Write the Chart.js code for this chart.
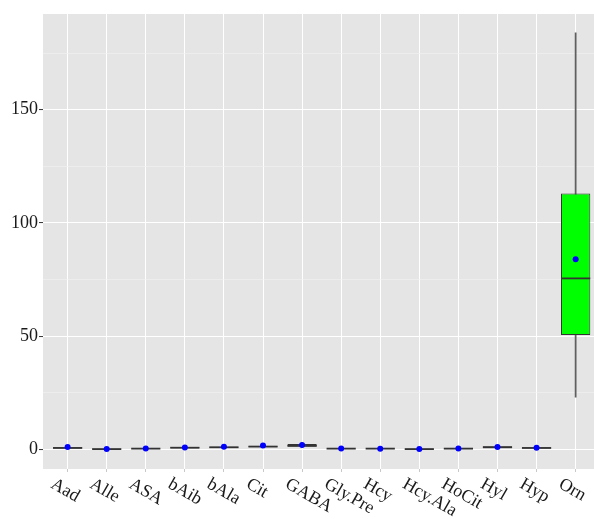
<!DOCTYPE html>
<html>
<head>
<meta charset="utf-8">
<script src="https://cdn.jsdelivr.net/npm/chart.js@4"></script>
<style>
  html, body { margin: 0; padding: 0; background: #ffffff; overflow: hidden; }
  #wrap { width: 594px; height: 519px; position: relative; overflow: hidden; }
  #c { display: block; width: 594px; height: 519px; }
</style>
</head>
<body>
<div id="wrap"><canvas id="c" width="594" height="519"></canvas></div>
<script>
// ---- data ----
const categories   = ['Aad','Alle','ASA','bAib','bAla','Cit','GABA','Gly.Pre','Hcy','Hcy.Ala','HoCit','Hyl','Hyp','Orn'];
const whiskerLow   = [0.2, 0.0, 0.1, 0.3, 0.4, 0.7, 0.8, 0.1, 0.1, 0.0, 0.1, 0.3, 0.2, 23];
const q1Values     = [0.4, 0.05,0.2, 0.5, 0.7, 1.0, 1.2, 0.2, 0.2, 0.05,0.2, 0.6, 0.4, 50.5];
const medianValues = [0.6, 0.1, 0.3, 0.7, 0.9, 1.2, 1.5, 0.3, 0.3, 0.1, 0.3, 0.9, 0.6, 75.5];
const q3Values     = [0.9, 0.2, 0.4, 0.9, 1.1, 1.4, 2.3, 0.4, 0.4, 0.2, 0.5, 1.3, 0.8, 113];
const whiskerHigh  = [1.4, 0.3, 0.6, 1.3, 1.5, 2.0, 3.0, 0.6, 0.6, 0.3, 0.7, 1.7, 1.1, 184];
const meanValues   = [1.0, 0.1, 0.4, 0.8, 1.1, 1.7, 1.9, 0.4, 0.3, 0.1, 0.4, 1.0, 0.7, 84];
const yTickLabels  = [0, 50, 100, 150];

const idx = categories.map((_, i) => i);

const panelBg = {
  id: 'panelBg',
  beforeDraw(chart) {
    const a = chart.chartArea, ctx = chart.ctx;
    ctx.save();
    ctx.fillStyle = '#E5E5E5';
    ctx.fillRect(a.left, a.top, a.right - a.left, a.bottom - a.top);
    ctx.restore();
  }
};

const xLabels = {
  id: 'xLabels',
  afterDraw(chart) {
    const ctx = chart.ctx, xs = chart.scales.x, a = chart.chartArea;
    ctx.save();
    ctx.font = '18px "Liberation Serif", "Times New Roman", serif';
    ctx.fillStyle = '#1a1a1a';
    ctx.textAlign = 'left';
    ctx.textBaseline = 'top';
    categories.forEach((c, i) => {
      const px = xs.getPixelForValue(i);
      ctx.save();
      ctx.translate(px - 11, a.bottom + 6);
      ctx.rotate(30 * Math.PI / 180);
      ctx.fillText(c, 0, 0);
      ctx.restore();
    });
    ctx.restore();
  }
};

const boxData = idx.map(i => ({ x: i, y: [q1Values[i], q3Values[i]] }));
const whiskerData = idx.map(i => ({ x: i, y: [whiskerLow[i], whiskerHigh[i]] }));
const medianData = idx.map(i => ({ x: i, y: medianValues[i] }));
const meanData = idx.map(i => ({ x: i, y: meanValues[i] }));

new Chart(document.getElementById('c'), {
  type: 'bar',
  data: {
    datasets: [
      {
        type: 'bar', label: 'whisker', data: whiskerData, grouped: false,
        backgroundColor: '#5f5f5f', borderWidth: 0, barThickness: 1.1, order: 4
      },
      {
        type: 'bar', label: 'box', data: boxData, grouped: false,
        backgroundColor: '#00FF00', borderColor: '#333333', borderWidth: 1,
        borderSkipped: false, categoryPercentage: 1, barPercentage: 0.75, order: 3
      },
      {
        type: 'line', label: 'median', data: medianData, showLine: false,
        pointStyle: 'line', pointRadius: 14.6, pointHoverRadius: 14.6,
        pointBorderColor: '#333333', pointBorderWidth: 1.8,
        pointBackgroundColor: '#333333', order: 2
      },
      {
        type: 'line', label: 'mean', data: meanData, showLine: false,
        pointStyle: 'circle', pointRadius: 3, pointBorderWidth: 0,
        pointBackgroundColor: '#0000FF', pointBorderColor: '#0000FF', order: 1
      }
    ]
  },
  options: {
    responsive: false,
    animation: false,
    events: [],
    layout: { autoPadding: false, padding: { top: 14, left: 0, right: 0, bottom: 0 } },
    plugins: { legend: { display: false }, tooltip: { enabled: false } },
    scales: {
      x: {
        type: 'linear',
        min: -0.63, max: 13.47,
        offset: false,
        afterBuildTicks(scale) {
          scale.ticks = idx.map(i => ({ value: i }));
        },
        afterFit(scale) { scale.height = 50; scale.paddingLeft = 0; scale.paddingRight = 0; },
        border: { display: false },
        grid: { offset: false, color: '#FFFFFF', lineWidth: 1, drawTicks: true, tickLength: 3, tickColor: '#C8C8C8' },
        ticks: { display: false }
      },
      y: {
        type: 'linear',
        min: -8.7, max: 192.3,
        afterBuildTicks(scale) {
          const t = [];
          for (let v = 0; v <= 175; v += 25) t.push({ value: v });
          scale.ticks = t;
        },
        afterFit(scale) { scale.width = 43; },
        border: { display: false },
        grid: {
          color: ctx => (ctx.tick && ctx.tick.value % 50 === 0) ? '#FFFFFF' : '#F2F2F2',
          lineWidth: ctx => (ctx.tick && ctx.tick.value % 50 === 0) ? 1.1 : 0.6,
          drawTicks: true, tickLength: 4,
          tickColor: ctx => (ctx.tick && ctx.tick.value % 50 === 0) ? '#333333' : 'rgba(0,0,0,0)',
          tickWidth: 1
        },
        ticks: {
          padding: 1,
          color: '#1a1a1a',
          font: { family: '"Liberation Serif", "Times New Roman", serif', size: 18 },
          callback: v => yTickLabels.includes(v) ? String(v) : ''
        }
      }
    }
  },
  plugins: [panelBg, xLabels]
});
</script>
</body>
</html>
